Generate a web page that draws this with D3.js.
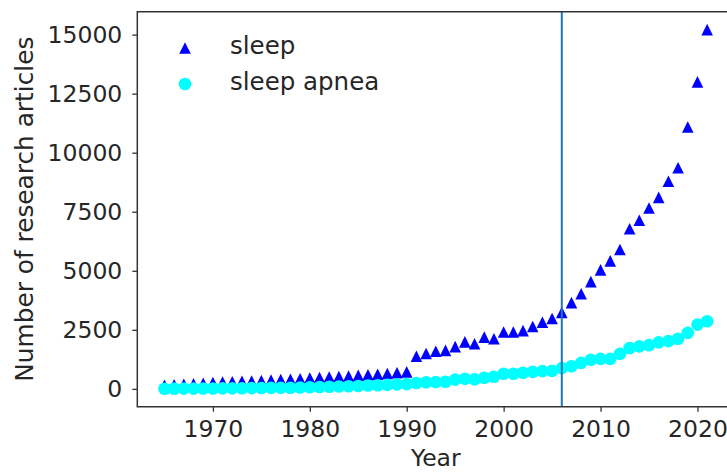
<!DOCTYPE html>
<html>
<head>
<meta charset="utf-8">
<script src="https://cdn.jsdelivr.net/npm/d3@7"></script>
<style>
  body { margin: 0; background: #fff; }
  svg text { font-family: "DejaVu Sans", sans-serif; fill: #262626; }
</style>
</head>
<body>
<div id="chart"></div>
<script>
// articles per year
const years = d3.range(1965, 2022);
const sleep = [
  150, 170, 190, 210, 240, 270, 290, 300, 320, 330,
  350, 370, 390, 410, 430, 460, 480, 500, 520, 540,
  570, 600, 620, 650, 680, 720, 1380, 1495, 1592, 1630,
  1790, 1990, 1910, 2190, 2120, 2405, 2405, 2468, 2640, 2820,
  2980, 3240, 3650, 4030, 4540, 5040, 5420, 5900, 6780, 7140,
  7660, 8110, 8790, 9360, 11090, 13000, 15210
];
const apnea = [
  5, 8, 10, 12, 15, 18, 20, 22, 25, 30,
  35, 40, 45, 50, 60, 70, 80, 90, 100, 110,
  120, 140, 150, 170, 190, 200, 250, 280, 290, 300,
  390, 430, 400, 470, 510, 640, 640, 680, 720, 750,
  760, 880, 960, 1100, 1230, 1270, 1270, 1480, 1730, 1800,
  1850, 1970, 2020, 2120, 2370, 2720, 2860
];
const xTicks = [1970, 1980, 1990, 2000, 2010, 2020];
const yTicks = [0, 2500, 5000, 7500, 10000, 12500, 15000];
const markerYear = 2006;

const W = 727, H = 472;
const pL = 137.3, pT = 11.7, pB = 406.7, pR = 734.3;

const svg = d3.select("#chart").append("svg")
  .attr("width", W).attr("height", H);

// matplotlib style 5% margins
function padded(ext) {
  const m = (ext[1] - ext[0]) * 0.05;
  return [ext[0] - m, ext[1] + m];
}

const x = d3.scaleLinear()
  .domain(padded(d3.extent(years)))
  .range([pL, pR]);
const y = d3.scaleLinear()
  .domain(padded([d3.min(sleep.concat(apnea)), d3.max(sleep.concat(apnea))]))
  .range([pB, pT]);

function triPath(s) {
  // isosceles triangle, width = height = 2s, like matplotlib '^'
  return `M0,${-s}L${s},${s}L${-s},${s}Z`;
}

svg.append("g").selectAll("path")
  .data(years)
  .enter().append("path")
  .attr("d", triPath(5.8))
  .attr("transform", (d, i) => `translate(${x(d)},${y(sleep[i])})`)
  .attr("fill", "#0000ff");

svg.append("g").selectAll("circle")
  .data(years)
  .enter().append("circle")
  .attr("cx", d => x(d))
  .attr("cy", (d, i) => y(apnea[i]))
  .attr("r", 6.3)
  .attr("fill", "#00ffff");

svg.append("line")
  .attr("x1", x(markerYear)).attr("x2", x(markerYear))
  .attr("y1", pT).attr("y2", pB)
  .attr("stroke", "#1f77b4")
  .attr("stroke-width", 2);

const xAxis = svg.append("g")
  .attr("transform", `translate(0,${pB})`)
  .call(d3.axisBottom(x).tickValues(xTicks).tickFormat(d3.format("d"))
    .tickSize(5).tickPadding(8.5).tickSizeOuter(0));
const yAxis = svg.append("g")
  .attr("transform", `translate(${pL},0)`)
  .call(d3.axisLeft(y).tickValues(yTicks).tickFormat(d3.format("d"))
    .tickSize(5).tickPadding(10).tickSizeOuter(0));

[xAxis, yAxis].forEach(a => {
  a.select(".domain").remove();
  a.selectAll(".tick line").attr("stroke", "#333").attr("stroke-width", 1.3);
  a.selectAll(".tick text").attr("font-size", 23.5).attr("fill", "#262626")
    .style("font-family", "DejaVu Sans");
});

// spines (left, bottom, top)
svg.append("path")
  .attr("d", `M${pR},${pT}H${pL}V${pB}H${pR}`)
  .attr("fill", "none")
  .attr("stroke", "#333")
  .attr("stroke-width", 1.5);

svg.append("text")
  .attr("x", (pL + pR) / 2).attr("y", 466)
  .attr("text-anchor", "middle")
  .attr("font-size", 23.5)
  .text("Year");

svg.append("text")
  .attr("transform", `translate(33,${(pT + pB) / 2}) rotate(-90)`)
  .attr("text-anchor", "middle")
  .attr("font-size", 24.8)
  .text("Number of research articles");

// legend
const legend = svg.append("g");
legend.append("path")
  .attr("d", triPath(5.8))
  .attr("transform", "translate(185,48)")
  .attr("fill", "#0000ff");
legend.append("circle")
  .attr("cx", 185).attr("cy", 84).attr("r", 6.3)
  .attr("fill", "#00ffff");
legend.append("text").attr("x", 230).attr("y", 54).attr("font-size", 24.5).text("sleep");
legend.append("text").attr("x", 230).attr("y", 90).attr("font-size", 24.5).text("sleep apnea");
</script>
</body>
</html>
